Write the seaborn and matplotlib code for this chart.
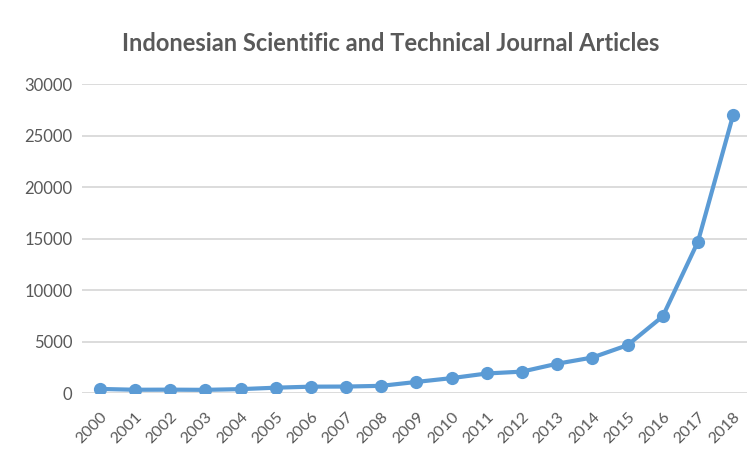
import matplotlib
matplotlib.use("Agg")
import matplotlib.pyplot as plt
import seaborn as sns
import pandas as pd

years = ["2000", "2001", "2002", "2003", "2004", "2005", "2006", "2007", "2008", "2009",
         "2010", "2011", "2012", "2013", "2014", "2015", "2016", "2017", "2018"]
articles = [400, 320, 330, 310, 380, 520, 620, 630, 700, 1080,
            1450, 1900, 2080, 2850, 3450, 4650, 7450, 14700, 27000]
y_ticks = [0, 5000, 10000, 15000, 20000, 25000, 30000]
title = "Indonesian Scientific and Technical Journal Articles"

df = pd.DataFrame({"year": years, "articles": articles})
df["pos"] = range(len(years))

sns.set_theme(style="white")
plt.rcParams["font.family"] = ["Lato", "DejaVu Sans"]

fig = plt.figure(figsize=(7.47, 4.51), dpi=100)
ax = fig.add_axes([0.110, 0.1285, 0.895, 0.685])

line_color = "#5B9BD5"
sns.lineplot(data=df, x="pos", y="articles", ax=ax, color=line_color,
             linewidth=3.0, marker="o", markersize=9.5, markeredgewidth=0,
             zorder=3)

ax.set_xlim(-0.5, 18.5)
ax.set_ylim(0, 30000)
ax.set_yticks(y_ticks)
ax.set_yticklabels([str(v) for v in y_ticks], color="#595959", fontsize=12)
ax.set_xticks(df["pos"])
ax.set_xticklabels(years, rotation=45, ha="right", rotation_mode="anchor",
                   color="#595959", fontsize=11.5)
ax.tick_params(axis="y", length=0, pad=7)
ax.tick_params(axis="x", length=0, pad=12)

ax.grid(axis="y", color="#D9D9D9", linewidth=1.3)
ax.set_axisbelow(True)
for s in ax.spines.values():
    s.set_visible(False)
ax.set_xlabel("")
ax.set_ylabel("")

fig.text(0.523, 0.903, title, ha="center", va="center", fontsize=17,
         fontweight="bold", color="#595959")

fig.savefig("out.png", dpi=100)
